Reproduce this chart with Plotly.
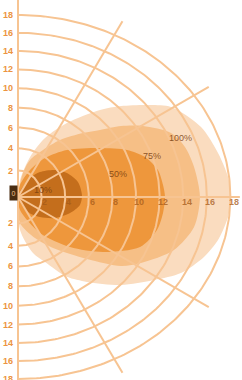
import numpy as np
import plotly.graph_objects as go

# ---- data ----
ring_radii = [2, 4, 6, 8, 10, 12, 14, 16, 18]
ring_labels = ["2", "4", "6", "8", "10", "12", "14", "16", "18"]
vertical_warp = 0.877          # vertical ring spacing shrinks outward in the source picture
spoke_angles_deg = [63, 34, -34, -63]
spoke_length = 19.5

zone_names = ["100%", "75%", "50%", "10%"]
zone_100_x = [0, 0.17, 1.02, 2.29, 4.15, 6.95, 8.73, 11.19, 12.97, 15.51, 16.95, 17.8, 18.05,
              17.8, 16.95, 15.76, 13.81, 11.53, 8.73, 5.85, 4.15, 2.29, 1.27, 0.17, 0]
zone_100_y = [0, 1.68, 3.96, 5.84, 7.32, 8.61, 9.0, 9.1, 8.9, 6.92, 4.35, 1.98, 0,
              -1.98, -4.25, -5.93, -7.52, -8.21, -8.7, -8.4, -7.9, -6.43, -5.54, -3.26, 0]
zone_75_x = [0, 0.42, 1.02, 2.12, 3.56, 5.51, 6.95, 8.73, 10.59, 12.97, 14.15, 14.92, 15.42,
             14.92, 13.22, 10.42, 8.73, 5.85, 2.97, 1.44, 0.17, 0]
zone_75_y = [0, 2.37, 3.66, 4.65, 5.64, 6.33, 6.63, 7.02, 7.02, 6.33, 4.95, 2.97, 0,
             -2.97, -5.24, -6.53, -6.82, -6.13, -5.04, -4.06, -2.57, 0]
zone_50_x = [0, 0.17, 1.02, 2.29, 4.15, 6.95, 9.24, 10.76, 11.86, 12.29, 12.46,
             12.29, 11.78, 10.34, 7.2, 4.41, 1.86, 0.17, 0]
zone_50_y = [0, 1.19, 2.67, 3.86, 4.65, 4.85, 4.65, 3.96, 2.67, 1.19, 0,
             -1.58, -3.26, -4.95, -5.44, -4.95, -3.56, -1.29, 0]
zone_10_x = [0, 1.02, 1.86, 3.14, 4.15, 5.08, 5.42, 5.25, 4.41, 3.14, 1.86, 0.85, 0]
zone_10_y = [0, 1.88, 2.47, 2.67, 2.37, 1.48, 0.2, -0.79, -1.58, -2.08, -1.98, -1.48, 0]
zone_label_x = [13.73, 11.36, 8.47, 2.12]
zone_label_y = [5.83, 4.05, 2.27, 0.69]

# ---- styles ----
zone_colors = ["#fadcbf", "#f6bf86", "#ee973c", "#c46e1c"]
grid_color = "#f7c492"
font_family = "Liberation Sans, Arial, sans-serif"

fig = go.Figure()

zones = [(zone_100_x, zone_100_y), (zone_75_x, zone_75_y),
         (zone_50_x, zone_50_y), (zone_10_x, zone_10_y)]
for (zx, zy), col, name in zip(zones, zone_colors, zone_names):
    fig.add_trace(go.Scatter(x=zx, y=zy, fill="toself", fillcolor=col, mode="lines",
                             line=dict(width=0, color=col, shape="spline", smoothing=0.8),
                             name=name, hoverinfo="skip", showlegend=False))

rmax = max(ring_radii)


def vr(r):
    return rmax * (r / rmax) ** vertical_warp


t = np.linspace(-np.pi / 2, np.pi / 2, 181)
for r in ring_radii:
    fig.add_trace(go.Scatter(x=r * np.cos(t), y=vr(r) * np.sin(t), mode="lines",
                             line=dict(color=grid_color, width=2),
                             hoverinfo="skip", showlegend=False))

for a in spoke_angles_deg:
    ar = np.deg2rad(a)
    fig.add_trace(go.Scatter(x=[0, spoke_length * np.cos(ar)], y=[0, spoke_length * np.sin(ar)],
                             mode="lines", line=dict(color=grid_color, width=2),
                             hoverinfo="skip", showlegend=False))

# axes lines
fig.add_trace(go.Scatter(x=[0, 18.8], y=[0, 0], mode="lines",
                         line=dict(color=grid_color, width=2), hoverinfo="skip", showlegend=False))
fig.add_trace(go.Scatter(x=[0, 0], y=[-19, 20], mode="lines",
                         line=dict(color=grid_color, width=2), hoverinfo="skip", showlegend=False))

ann = []
for r, lab in zip(ring_radii, ring_labels):
    for s in (1, -1):
        ann.append(dict(x=-0.22, y=s * vr(r), text="<b>" + lab + "</b>", showarrow=False,
                        xanchor="right", yanchor="middle",
                        font=dict(family=font_family, size=9, color="#ec9440")))
    ann.append(dict(x=r + 0.28, y=-0.45, text="<b>" + lab + "</b>", showarrow=False,
                    xanchor="center", yanchor="middle",
                    font=dict(family=font_family, size=9, color="rgba(165,90,25,0.75)")))

for name, lx, ly in zip(zone_names, zone_label_x, zone_label_y):
    ann.append(dict(x=lx, y=ly, text=name, showarrow=False, xanchor="center", yanchor="middle",
                    font=dict(family=font_family, size=9, color="rgba(120,62,15,0.85)")))

ann.append(dict(x=-0.34, y=0.4, text="0", showarrow=False, xanchor="center", yanchor="middle",
                bgcolor="#4a2c10", width=7, height=14, borderpad=0,
                font=dict(family=font_family, size=7, color="#f3c58d")))

fig.update_layout(
    width=242, height=380, margin=dict(l=0, r=0, t=0, b=0),
    paper_bgcolor="white", plot_bgcolor="white", showlegend=False,
    xaxis=dict(range=[-18 / 11.8, 224 / 11.8], visible=False, fixedrange=True),
    yaxis=dict(range=[-183 / 10.11, 197 / 10.11], visible=False, fixedrange=True),
    annotations=ann,
)

fig.write_html("out.html", config={"displayModeBar": False},
               post_script="document.body.style.margin='0px';document.body.style.overflow='hidden';")
